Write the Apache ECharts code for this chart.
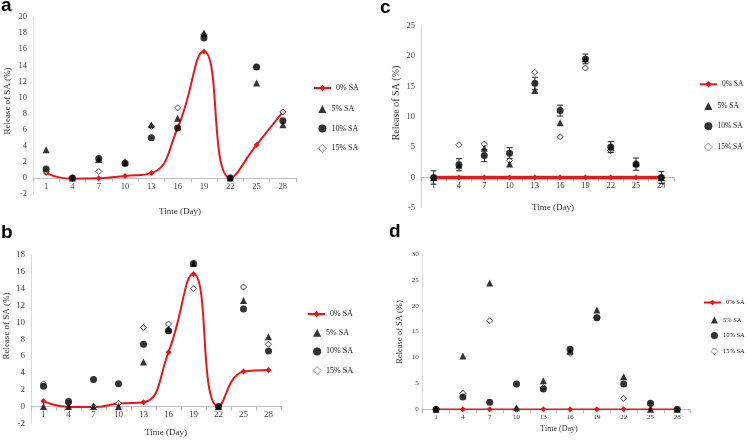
<!DOCTYPE html>
<html>
<head>
<meta charset="utf-8">
<script src="https://cdn.jsdelivr.net/npm/echarts@6/dist/echarts.min.js"></script>
<style>html,body{margin:0;padding:0;background:#fff}#c{width:746px;height:442px}</style>
</head>
<body>
<div id="c"></div>
<script>
var days = ['1','4','7','10','13','16','19','22','25','28'];
var names = ['0% SA','5% SA','10% SA','15% SA'];
// panel a
var a0 = [0.6, -0.1, -0.05, 0.25, 0.6, 6.2, 15.7, 0, 4.1, 8.2];
var a5 = [3.5, 0, 2.3, 1.9, 6.6, 7.4, 18.0, 0, 11.8, 6.6];
var a10 = [1.1, 0, 2.4, 1.8, 5.0, 6.2, 17.4, 0, 13.8, 7.1];
var a15 = [0.8, 0, 0.8, 2.0, 6.4, 8.7, 17.8, 0, 13.8, 8.2];
// panel b
var b0 = [0.65, -0.05, -0.05, 0.35, 0.5, 6.45, 15.75, 0, 4.15, 4.35];
var b5 = [0, 0, 0, 0, 5.3, 9.2, 17.0, 0, 12.6, 8.3];
var b10 = [2.4, 0.6, 3.2, 2.7, 7.4, 9.0, 17.0, 0, 11.6, 6.6];
var b15 = [2.7, 0.4, 0, 0.4, 9.4, 9.8, 14.0, 0, 14.2, 7.4];
// panel c
var c0 = [0, 0, 0, 0, 0, 0, 0, 0, 0, 0];
var c5 = [0, 2.0, 4.8, 2.2, 14.3, 9.0, 19.5, 5.0, 2.3, 0];
var c10 = [0, 2.1, 3.6, 4.0, 15.5, 11.0, 19.5, 5.0, 2.2, 0];
var c15 = [0, 5.4, 5.5, 2.8, 17.3, 6.7, 18.0, 4.4, 2.0, 0];
var cErr = [1.1, 1.0, 1.0, 0.9, 1.0, 0.9, 0.8, 0.9, 1.0, 1.0];
// panel d
var d0 = [0, 0, 0, 0, 0, 0, 0, 0, 0, 0];
var d5 = [0, 10.3, 24.4, 0.3, 5.5, 11.2, 19.2, 6.3, 0, 0];
var d10 = [0, 2.4, 1.35, 4.9, 3.9, 11.6, 17.7, 4.9, 1.15, 0];
var d15 = [0, 3.1, 17.1, 0, 4.2, 10.8, 17.7, 2.1, 0.9, 0];

var SERIF = 'Liberation Serif';
var RED = '#e8151b';

var panels = [
  {grid:{left:33, top:17, width:263, height:177}, y:{min:-2, max:20, interval:2}, fs:8.5, lw:2, data:[a0,a5,a10,a15],
   lg:{fs:8, lineLeft:313, lineTop:84, scLeft:318, scTop:105, ih:8, gap:11.5}},
  {grid:{left:31, top:255, width:250, height:168.4}, y:{min:-2, max:18, interval:2}, fs:9, lw:2, data:[b0,b5,b10,b15],
   lg:{fs:8, lineLeft:307, lineTop:310, scLeft:312.7, scTop:328.7, ih:8, gap:10.7}},
  {grid:{left:421, top:25.5, width:253, height:182.4}, y:{min:-5, max:25, interval:5}, fs:8.5, lw:3.5, data:[c0,c5,c10,c15],
   lg:{fs:7.5, lineLeft:699, lineTop:80.3, scLeft:704, scTop:102, ih:8, gap:12.3}},
  {grid:{left:422.7, top:254, width:268, height:155.3}, y:{min:0, max:30, interval:5}, fs:7, lw:1.5, data:[d0,d5,d10,d15],
   lg:{fs:6.5, lineLeft:703, lineTop:299, scLeft:710.5, scTop:316.5, ih:7, gap:8.5}}
];

var option = {
  backgroundColor:'#fff',
  animation:false,
  grid:[], xAxis:[], yAxis:[], series:[], legend:[], graphic:[]
};

panels.forEach(function(p, i){
  option.grid.push(p.grid);
  // place the category axis at value 0 of the value axis
  var zeroOffset = -p.grid.height * (0 - p.y.min) / (p.y.max - p.y.min);
  option.xAxis.push({
    type:'category', gridIndex:i, data:days, boundaryGap:true, position:'bottom', offset:zeroOffset,
    axisLine:{onZero:false, lineStyle:{color:'#bfbfbf', width:1}},
    axisTick:{show:true, length:4, lineStyle:{color:'#bfbfbf'}},
    axisLabel:{interval:0, margin:4, fontFamily:SERIF, fontSize:p.fs, color:'#404040'},
    splitLine:{show:false}
  });
  option.yAxis.push({
    type:'value', gridIndex:i, min:p.y.min, max:p.y.max, interval:p.y.interval,
    axisLine:{show:true, lineStyle:{color:'#d9d9d9'}},
    axisTick:{show:false},
    axisLabel:{margin:i===3?4:6, fontFamily:SERIF, fontSize:p.fs, color:'#404040'},
    splitLine:{show:false}
  });
  var d = p.data;
  option.series.push({
    name:names[0], type:'line', xAxisIndex:i, yAxisIndex:i, data:d[0],
    smooth:(i<2)?0.5:false, symbol:'diamond', symbolSize:6,
    lineStyle:{color:RED, width:p.lw}, itemStyle:{color:RED}, z:3
  });
  option.series.push({
    name:names[3], type:'scatter', xAxisIndex:i, yAxisIndex:i, data:d[3],
    symbol:'diamond', symbolSize:6,
    itemStyle:{color:'#ffffff', borderColor:'#222', borderWidth:1}, z:4
  });
  option.series.push({
    name:names[1], type:'scatter', xAxisIndex:i, yAxisIndex:i, data:d[1],
    symbol:'triangle', symbolSize:7, itemStyle:{color:'#000'}, z:5
  });
  option.series.push({
    name:names[2], type:'scatter', xAxisIndex:i, yAxisIndex:i, data:d[2],
    symbol:'circle', symbolSize:7, itemStyle:{color:'#000'}, z:6
  });
  var lg = p.lg;
  option.legend.push({
    orient:'vertical', left:lg.lineLeft, top:lg.lineTop, padding:0,
    itemWidth:17, itemHeight:lg.ih,
    data:[names[0]],
    textStyle:{fontFamily:SERIF, fontSize:lg.fs, color:'#222'},
    selectedMode:false
  });
  option.legend.push({
    orient:'vertical', left:lg.scLeft, top:lg.scTop, padding:0,
    itemWidth:lg.ih, itemHeight:lg.ih, itemGap:lg.gap,
    data:[names[1], names[2], {name:names[3], itemStyle:{borderWidth:0.8, borderColor:'#555'}}],
    textStyle:{fontFamily:SERIF, fontSize:lg.fs, color:'#222'},
    selectedMode:false
  });
});

// error bars for panel c
option.series.push({
  type:'custom', xAxisIndex:2, yAxisIndex:2, z:7,
  data:c10.map(function(v, k){ return [k, v - cErr[k], v + cErr[k]]; }),
  renderItem:function(params, api){
    var x = api.value(0);
    var lo = api.coord([x, api.value(1)]);
    var hi = api.coord([x, api.value(2)]);
    var w = 3;
    var st = {stroke:'#222', lineWidth:1};
    return {type:'group', children:[
      {type:'line', shape:{x1:lo[0], y1:lo[1], x2:hi[0], y2:hi[1]}, style:st},
      {type:'line', shape:{x1:hi[0]-w, y1:hi[1], x2:hi[0]+w, y2:hi[1]}, style:st},
      {type:'line', shape:{x1:lo[0]-w, y1:lo[1], x2:lo[0]+w, y2:lo[1]}, style:st}
    ]};
  }
});

function txt(x, y, s, fs, opts){
  var o = {type:'text', x:x, y:y, style:{text:s, fontFamily:SERIF, fontSize:fs, fill:'#333', textAlign:'center', textVerticalAlign:'middle'}};
  if (opts) for (var k in opts) o[k] = opts[k];
  return o;
}
option.graphic = [
  {type:'text', left:1, top:-4, style:{text:'a', fontFamily:'Liberation Sans', fontWeight:'bold', fontSize:19, fill:'#000'}},
  {type:'text', left:1, top:223, style:{text:'b', fontFamily:'Liberation Sans', fontWeight:'bold', fontSize:19, fill:'#000'}},
  {type:'text', left:380, top:-2, style:{text:'c', fontFamily:'Liberation Sans', fontWeight:'bold', fontSize:19, fill:'#000'}},
  {type:'text', left:389, top:222, style:{text:'d', fontFamily:'Liberation Sans', fontWeight:'bold', fontSize:19, fill:'#000'}},
  txt(180, 212, 'Time (Day)', 9),
  txt(166, 433, 'Time (Day)', 9),
  txt(553, 208, 'Time (Day)', 9),
  txt(559, 429, 'Time (Day)', 8),
  txt(8, 101, 'Release of SA (%)', 9, {rotation:Math.PI/2}),
  txt(7, 326, 'Release of SA (%)', 9, {rotation:Math.PI/2}),
  txt(396, 103, 'Release of SA (%)', 10, {rotation:Math.PI/2}),
  txt(400, 332, 'Release of SA (%)', 8.5, {rotation:Math.PI/2})
];

var chart = echarts.init(document.getElementById('c'), null, {renderer:'canvas'});
chart.setOption(option);
</script>
</body>
</html>
